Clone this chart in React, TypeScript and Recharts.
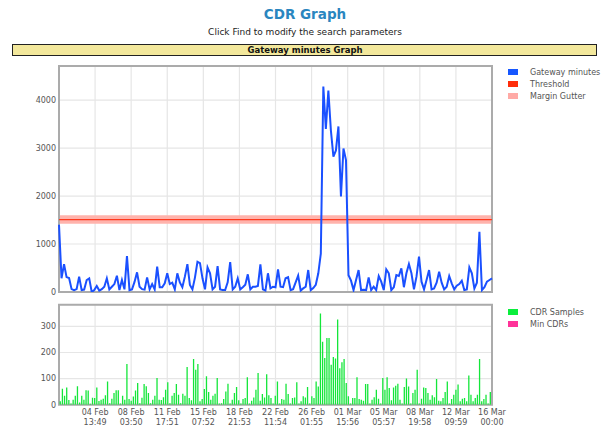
import React from "react";
import {
  ComposedChart,
  Line,
  Bar,
  XAxis,
  YAxis,
  CartesianGrid,
  ReferenceLine,
  ReferenceArea,
  Legend,
} from "recharts";

const FONT = "'DejaVu Sans', Verdana, sans-serif";

// x axis: hours since the start of the window (01 Feb ~03:48 -> 16 Mar 00:00)
const RANGE_HOURS = 1032;
const tickHours = [86, 172, 258, 344, 430, 516, 602, 688, 774, 860, 946, 1032];
const tickDates = ["04 Feb", "08 Feb", "11 Feb", "15 Feb", "18 Feb", "22 Feb", "26 Feb", "01 Mar", "05 Mar", "08 Mar", "12 Mar", "16 Mar"];
const tickTimes = ["13:49", "03:50", "17:51", "07:52", "21:53", "11:54", "01:55", "15:56", "05:57", "19:58", "09:59", "00:00"];

// gateway minutes, one sample every 6 hours
const LINE_STEP_HOURS = 6;
const gatewayMinutes = [
  1400, 285, 580, 310, 290, 60, 40, 60, 320, 40,
  50, 250, 285, 0, 40, 125, 30, 60, 110, 285,
  55, 110, 165, 340, 40, 250, 55, 750, 40, 55,
  210, 410, 110, 60, 50, 305, 55, 165, 55, 527,
  100, 100, 180, 390, 165, 195, 55, 390, 200, 100,
  320, 580, 145, 55, 300, 630, 600, 285, 55, 513,
  390, 55, 110, 540, 55, 40, 40, 200, 625, 55,
  110, 285, 55, 100, 150, 368, 55, 110, 110, 125,
  576, 55, 30, 390, 75, 110, 100, 470, 110, 100,
  285, 310, 40, 60, 200, 340, 30, 75, 110, 458,
  40, 80, 150, 390, 800, 4280, 3400, 4200, 3370, 2820,
  2950, 3450, 1990, 2990, 2750, 350, 236, 40, 250, 458,
  40, 45, 40, 305, 40, 110, 40, 333, 215, 40,
  472, 390, 40, 100, 354, 333, 493, 100, 390, 583,
  390, 55, 320, 736, 215, 55, 250, 458, 55, 75,
  195, 423, 195, 55, 110, 333, 180, 55, 130, 165,
  236, 40, 55, 513, 390, 75, 195, 1256, 40, 100,
  215, 250, 285,
];
const gwTicks = [0, 1000, 2000, 3000, 4000];
const GW_MAX = 4710;
const threshold = 1510;
const marginGutter = 90;

// CDR samples
const BAR_START_HOURS = 4;
const BAR_STEP_HOURS = 5.125;
const cdrSamples = [
  13, 61, 34, 66, 18, 5, 19, 34, 71, 8,
  34, 19, 55, 54, 4, 27, 26, 66, 14, 19,
  23, 36, 89, 6, 23, 45, 55, 55, 5, 34,
  19, 156, 22, 15, 31, 54, 83, 6, 27, 79,
  71, 45, 6, 19, 34, 102, 19, 18, 29, 57,
  86, 6, 34, 45, 79, 38, 6, 42, 34, 144,
  26, 17, 175, 134, 156, 13, 22, 60, 109, 49,
  19, 34, 42, 102, 5, 6, 22, 51, 80, 5,
  19, 45, 68, 17, 5, 22, 26, 105, 5, 15,
  28, 57, 121, 15, 41, 28, 117, 36, 26, 5,
  34, 89, 5, 22, 19, 80, 41, 5, 26, 28,
  86, 5, 13, 32, 28, 68, 5, 32, 26, 89,
  70, 349, 241, 179, 255, 255, 153, 183, 177, 326,
  140, 163, 175, 83, 32, 5, 26, 26, 105, 22,
  19, 15, 79, 79, 5, 19, 29, 57, 23, 5,
  102, 57, 105, 64, 17, 66, 73, 80, 19, 5,
  68, 100, 70, 5, 45, 57, 134, 5, 23, 66,
  64, 45, 19, 36, 29, 98, 15, 13, 26, 49,
  89, 5, 22, 38, 57, 77, 13, 23, 26, 13,
  112, 38, 13, 26, 38, 175, 13, 22, 38, 5,
  49,
];
const cdrTicks = [0, 100, 200, 300];
const CDR_MAX = 383;

const topLegend = [
  { label: "Gateway minutes", color: "#1657FF" },
  { label: "Threshold", color: "#FF2D0A" },
  { label: "Margin Gutter", color: "#FFAAA6" },
];
const bottomLegend = [
  { label: "CDR Samples", color: "#0AEE3C" },
  { label: "Min CDRs", color: "#FF3399" },
];

const lineData = gatewayMinutes.map((v, i) => ({ hour: i * LINE_STEP_HOURS, minutes: v }));
const barData = cdrSamples.map((v, i) => ({ hour: BAR_START_HOURS + i * BAR_STEP_HOURS, samples: v }));

const axisTick = { fill: "#555", fontSize: 8, fontFamily: FONT };

const LegendBox = ({ items }: { items: { label: string; color: string }[] }) => (
  <div style={{ fontFamily: FONT, fontSize: 8, color: "#545454" }}>
    {items.map((it) => (
      <div key={it.label} style={{ height: 12, display: "flex", alignItems: "center" }}>
        <span style={{ display: "inline-block", width: 10, height: 6, background: it.color, marginRight: 12 }} />
        <span>{it.label}</span>
      </div>
    ))}
  </div>
);

const TwoLineTick = (props: any) => {
  const { x, y, payload } = props;
  const i = tickHours.indexOf(payload.value);
  return (
    <text x={x} y={y} textAnchor="middle" fill="#555" fontSize={8} fontFamily={FONT}>
      <tspan x={x} dy={9.8}>{tickDates[i]}</tspan>
      <tspan x={x} dy={10}>{tickTimes[i]}</tspan>
    </text>
  );
};

export default function App() {
  return (
    <div style={{ position: "absolute", left: 0, top: 0, width: 611, height: 427, background: "#fff", fontFamily: FONT }}>
      <svg width={611} height={60} style={{ position: "absolute", left: 0, top: 0 }}>
        <text x={305} y={18.5} textAnchor="middle" fontSize={13.5} fontWeight="bold" fill="#2A86BF" fontFamily={FONT}>
          CDR Graph
        </text>
        <text x={305} y={34.5} textAnchor="middle" fontSize={9} fill="#222" fontFamily={FONT}>
          Click Find to modify the search parameters
        </text>
        <rect x={12.5} y={44.5} width={584} height={11} fill="#F3E89C" stroke="#222" strokeWidth={1} />
        <text x={305} y={53.2} textAnchor="middle" fontSize={8.5} fontWeight="bold" fill="#111" fontFamily={FONT}>
          Gateway minutes Graph
        </text>
      </svg>

      <div style={{ position: "absolute", left: 0, top: 60 }}>
        <ComposedChart width={611} height={240} data={lineData} margin={{ top: 6, right: 119, left: 19, bottom: 8 }}>
          <CartesianGrid stroke="#e6e6e6" strokeWidth={1.2} />
          <XAxis dataKey="hour" type="number" domain={[0, RANGE_HOURS]} ticks={tickHours} hide />
          <YAxis
            type="number"
            domain={[0, GW_MAX]}
            ticks={gwTicks}
            allowDataOverflow
            width={40}
            tickSize={0}
            tickMargin={3}
            axisLine={false}
            tickLine={false}
            tick={axisTick}
          />
          <ReferenceArea y1={threshold - marginGutter} y2={threshold + marginGutter} fill="#FFB3AC" fillOpacity={1} stroke="none" />
          <ReferenceLine y={threshold} stroke="#FF3A1E" strokeWidth={1.2} />
          <Line type="linear" dataKey="minutes" stroke="#1A50FF" strokeWidth={2} dot={false} isAnimationActive={false} />
          <ReferenceArea x1={0} x2={RANGE_HOURS} y1={0} y2={GW_MAX} fill="none" stroke="#ababab" strokeWidth={2} />
          <Legend
            layout="vertical"
            align="center"
            verticalAlign="middle"
            wrapperStyle={{ left: 508, top: 6.3, width: 100 }}
            content={() => <LegendBox items={topLegend} />}
          />
        </ComposedChart>
      </div>

      <div style={{ position: "absolute", left: 0, top: 298 }}>
        <ComposedChart width={611} height={129} data={barData} margin={{ top: 6.7, right: 119, left: 19, bottom: 0 }}>
          <CartesianGrid stroke="#e6e6e6" strokeWidth={1.2} />
          <XAxis
            dataKey="hour"
            type="number"
            domain={[0, RANGE_HOURS]}
            ticks={tickHours}
            interval={0}
            height={22.3}
            tickSize={0}
            tickMargin={0}
            axisLine={false}
            tickLine={false}
            tick={<TwoLineTick />}
          />
          <YAxis
            type="number"
            domain={[0, CDR_MAX]}
            ticks={cdrTicks}
            allowDataOverflow
            width={40}
            tickSize={0}
            tickMargin={3}
            axisLine={false}
            tickLine={false}
            tick={axisTick}
          />
          <Bar dataKey="samples" fill="#14E63A" barSize={1.3} isAnimationActive={false} />
          <ReferenceArea x1={0} x2={RANGE_HOURS} y1={0} y2={CDR_MAX} fill="none" stroke="#ababab" strokeWidth={2} />
          <Legend
            layout="vertical"
            align="center"
            verticalAlign="middle"
            wrapperStyle={{ left: 508, top: 8, width: 100 }}
            content={() => <LegendBox items={bottomLegend} />}
          />
        </ComposedChart>
      </div>
    </div>
  );
}
